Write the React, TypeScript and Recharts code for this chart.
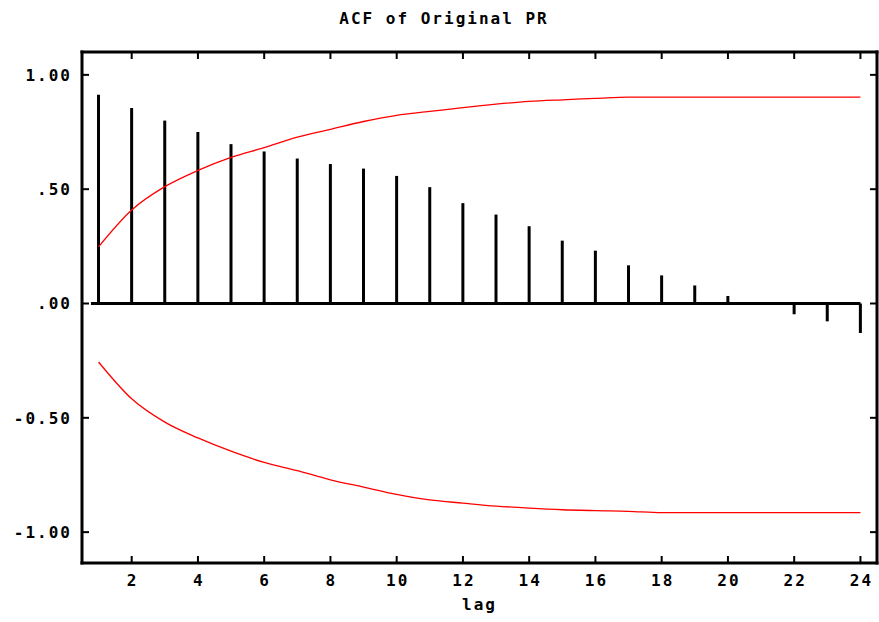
import React from "react";
import { ComposedChart, Bar, Line, XAxis, YAxis, ReferenceLine } from "recharts";

const lags = [1, 2, 3, 4, 5, 6, 7, 8, 9, 10, 11, 12, 13, 14, 15, 16, 17, 18, 19, 20, 21, 22, 23, 24];
const acf = [0.913, 0.855, 0.8, 0.75, 0.697, 0.665, 0.634, 0.61, 0.59, 0.558, 0.509, 0.439, 0.389, 0.338, 0.275, 0.231, 0.167, 0.123, 0.079, 0.033, -0.005, -0.047, -0.078, -0.129];
const upperBand = [0.248, 0.409, 0.511, 0.582, 0.639, 0.682, 0.728, 0.762, 0.796, 0.823, 0.84, 0.857, 0.872, 0.884, 0.891, 0.897, 0.903, 0.903, 0.903, 0.903, 0.903, 0.903, 0.903, 0.903];
const lowerBand = [-0.256, -0.417, -0.519, -0.588, -0.646, -0.695, -0.731, -0.771, -0.803, -0.835, -0.859, -0.873, -0.886, -0.895, -0.902, -0.906, -0.909, -0.915, -0.915, -0.915, -0.915, -0.915, -0.915, -0.915];

const xTicks = [2, 4, 6, 8, 10, 12, 14, 16, 18, 20, 22, 24];
const yTicks = [1, 0.5, 0, -0.5, -1];
const yTickLabels = ["1.00", ".50", ".00", "-0.50", "-1.00"];

const data = lags.map((lag, i) => ({
  lag,
  acf: acf[i],
  upper: upperBand[i],
  lower: lowerBand[i],
}));

const FONT = "'DejaVu Sans Mono', monospace";
const textStyle = { fontFamily: FONT, fontSize: 16, fontWeight: 700, fill: "#000", letterSpacing: 2 };
const axisLine = { stroke: "#000", strokeWidth: 3, strokeLinecap: "square" as const };
const TICK = 7;
const yLabel = (v: number) => yTickLabels[yTicks.indexOf(v)] ?? "";

// ticks point into the plot, labels stay outside
const LeftTick = (p: any) => (
  <g>
    <line x1={p.x + 10} x2={p.x + 10 + TICK} y1={p.y} y2={p.y} stroke="#000" strokeWidth={2} />
    <text x={p.x} y={p.y} dy={6} textAnchor="end" style={textStyle}>{yLabel(p.payload.value)}</text>
  </g>
);
const BottomTick = (p: any) => (
  <g>
    <line x1={p.x} x2={p.x} y1={p.y} y2={p.y - TICK} stroke="#000" strokeWidth={2} />
    <text x={p.x + 1} y={p.y} dy={23} textAnchor="middle" style={textStyle}>{p.payload.value}</text>
  </g>
);
const TopTick = (p: any) => (
  <line x1={p.x} x2={p.x} y1={p.y} y2={p.y + TICK} stroke="#000" strokeWidth={2} />
);
const RightTick = (p: any) => (
  <line x1={p.x} x2={p.x - TICK} y1={p.y} y2={p.y} stroke="#000" strokeWidth={2} />
);

export default function App() {
  return (
    <div style={{ position: "absolute", left: 0, top: 0, width: 879, height: 622, background: "#fff" }}>
      <svg width={879} height={40} style={{ position: "absolute", left: 0, top: 0 }}>
        <text x={444} y={24} textAnchor="middle" style={textStyle}>
          ACF of Original PR
        </text>
      </svg>
      <ComposedChart width={879} height={622} data={data} margin={{ top: 51, right: 1, bottom: 0, left: 0 }}>
        <XAxis dataKey="lag" type="number" domain={[0.5, 24.5]} ticks={xTicks} height={59}
               axisLine={axisLine} tickLine={false} tickSize={0} tickMargin={0} tick={<BottomTick />}
               interval={0} allowDataOverflow
               label={{ value: "lag", position: "insideBottom", offset: 12, style: textStyle }} />
        <XAxis xAxisId="top" orientation="top" dataKey="lag" type="number" domain={[0.5, 24.5]} ticks={xTicks}
               height={1} axisLine={axisLine} tickLine={false} tickSize={0} tickMargin={0} tick={<TopTick />}
               interval={0} allowDataOverflow />
        <YAxis type="number" domain={[-1.135, 1.1]} ticks={yTicks} width={82} interval={0}
               axisLine={axisLine} tickLine={false} tickSize={0} tickMargin={10} tick={<LeftTick />}
               allowDataOverflow />
        <YAxis yAxisId="right" orientation="right" type="number" domain={[-1.135, 1.1]} ticks={yTicks} width={1}
               interval={0} axisLine={axisLine} tickLine={false} tickSize={0} tickMargin={0} tick={<RightTick />}
               allowDataOverflow />
        <ReferenceLine segment={[{ x: 0.77, y: 0 }, { x: 24, y: 0 }]} stroke="#000" strokeWidth={3} />
        <Bar dataKey="acf" fill="#000" barSize={3} isAnimationActive={false} />
        <Line type="monotone" dataKey="upper" stroke="#ff0000" strokeWidth={1.3} dot={false} isAnimationActive={false} />
        <Line type="monotone" dataKey="lower" stroke="#ff0000" strokeWidth={1.3} dot={false} isAnimationActive={false} />
      </ComposedChart>
    </div>
  );
}
